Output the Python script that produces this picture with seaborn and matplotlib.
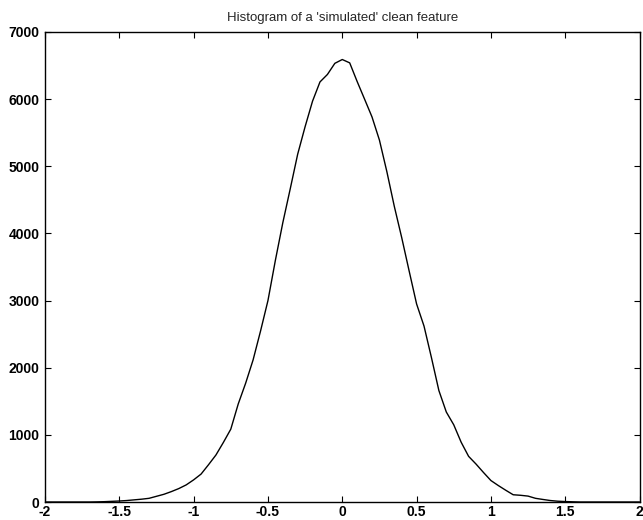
import matplotlib
matplotlib.use("Agg")
import matplotlib.pyplot as plt
import seaborn as sns
import pandas as pd

# bin centres and counts
bin_centres = [
    -2.00, -1.95, -1.90, -1.85, -1.80, -1.75, -1.70, -1.65, -1.60, -1.55,
    -1.50, -1.45, -1.40, -1.35, -1.30, -1.25, -1.20, -1.15, -1.10, -1.05,
    -1.00, -0.95, -0.90, -0.85, -0.80, -0.75, -0.70, -0.65, -0.60, -0.55,
    -0.50, -0.45, -0.40, -0.35, -0.30, -0.25, -0.20, -0.15, -0.10, -0.05,
    0.00, 0.05, 0.10, 0.15, 0.20, 0.25, 0.30, 0.35, 0.40, 0.45,
    0.50, 0.55, 0.60, 0.65, 0.70, 0.75, 0.80, 0.85, 0.90, 0.95,
    1.00, 1.05, 1.10, 1.15, 1.20, 1.25, 1.30, 1.35, 1.40, 1.45,
    1.50, 1.55, 1.60, 1.65, 1.70, 1.75, 1.80, 1.85, 1.90, 1.95, 2.00,
]
counts = [
    0, 0, 0, 0, 0, 0, 0, 2, 5, 10,
    15, 22, 32, 42, 55, 85, 115, 155, 200, 255,
    330, 416, 555, 700, 887, 1085, 1460, 1770, 2116, 2545,
    3000, 3600, 4160, 4665, 5180, 5590, 5970, 6256, 6367, 6533,
    6590, 6540, 6263, 6000, 5735, 5390, 4920, 4404, 3937, 3440,
    2950, 2620, 2150, 1660, 1340, 1150, 890, 680, 565, 440,
    320, 245, 175, 108, 100, 88, 55, 38, 22, 12,
    7, 3, 0, 0, 0, 0, 0, 0, 0, 0, 0,
]
x_ticks = [-2, -1.5, -1, -0.5, 0, 0.5, 1, 1.5, 2]
x_tick_labels = ["-2", "-1.5", "-1", "-0.5", "0", "0.5", "1", "1.5", "2"]
y_ticks = [0, 1000, 2000, 3000, 4000, 5000, 6000, 7000]
title = "Histogram of a 'simulated' clean feature"

sns.set_style("ticks")
plt.rcParams["font.family"] = ["Liberation Sans", "DejaVu Sans"]

df = pd.DataFrame({"x": bin_centres, "count": counts})

fig = plt.figure(figsize=(6.43, 5.20), dpi=100)
ax = fig.add_axes([0.070, 0.0346, 0.9246, 0.9039])
sns.lineplot(data=df, x="x", y="count", color="black", linewidth=1.0, ax=ax)

ax.set_xlim(-2, 2)
ax.set_ylim(0, 7000)
ax.set_xticks(x_ticks)
ax.set_xticklabels(x_tick_labels)
ax.set_yticks(y_ticks)
ax.set_xlabel("")
ax.set_ylabel("")
for s in ax.spines.values():
    s.set_visible(True)
    s.set_color("black")
    s.set_linewidth(1.0)
ax.tick_params(direction="in", length=4, width=0.8, top=True, right=True,
               labelsize=10, colors="black")
ax.tick_params(axis="x", pad=2)
ax.tick_params(axis="y", pad=4)
for lab in ax.get_xticklabels() + ax.get_yticklabels():
    lab.set_fontweight("bold")
ax.set_title(title, fontsize=9.5, pad=8)
ax.grid(False)

fig.savefig("out.png", dpi=100, facecolor="white")
